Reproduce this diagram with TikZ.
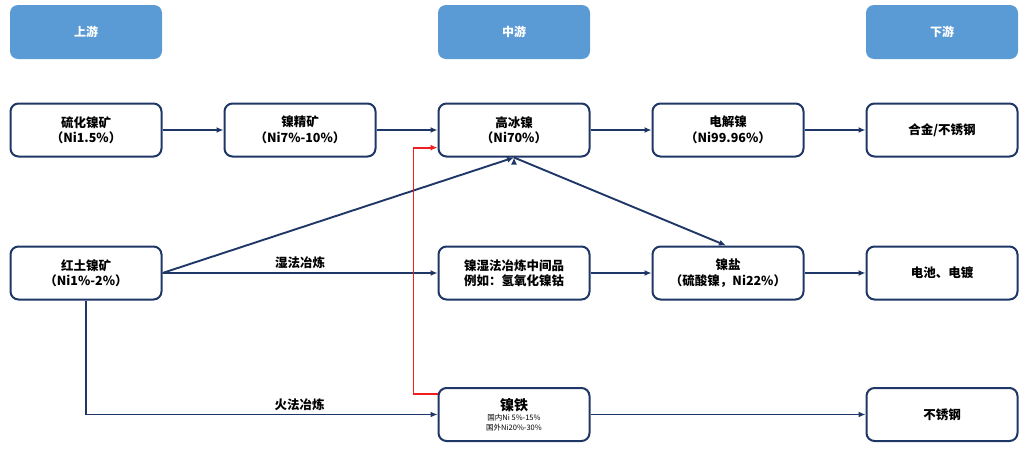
\documentclass[tikz,border=0pt]{standalone}
\usepackage{fontspec}
\setmainfont{Noto Sans CJK SC}
\usetikzlibrary{positioning,arrows.meta}
\definecolor{navy}{HTML}{1F3766}
\definecolor{headblue}{HTML}{5B9BD5}
\definecolor{redline}{HTML}{F01E1E}
\begin{document}
\begin{tikzpicture}
		[x=1pt,y=-1pt,
		block/.style ={rectangle, draw=navy, line width=2pt, fill=white, minimum width=151pt, minimum height=53pt, align=center, rounded corners=8pt, font=\fontsize{12.5}{15.5}\selectfont\bfseries, inner sep=0pt},
		head/.style ={rectangle, fill=headblue, minimum width=152pt, minimum height=54pt, rounded corners=8pt, text=white, font=\fontsize{12}{15}\selectfont\bfseries},
		line/.style ={draw=navy, line width=1.9pt, -{Latex[length=7pt,width=6pt]}},
		lab/.style ={font=\fontsize{12.5}{15}\selectfont\bfseries, inner sep=3pt}]
		\useasboundingbox (0,0) rectangle (1024,448);

		% header
		\node[head] (up) at (86,32) {上游};
		\node[head] (mid) at (514,32) {中游};
		\node[head] (down) at (942,32) {下游};

		% row 1
		\node[block] (lhk) at (86,130) {硫化镍矿\\（Ni1.5\%）};
		\node[block] (njk) at (300,130) {镍精矿\\（Ni7\%-10\%）};
		\node[block] (gbn) at (514,130) {高冰镍\\（Ni70\%）};
		\node[block] (djn) at (728,130) {电解镍\\（Ni99.96\%）};
		\node[block] (hj) at (942,130) {合金/不锈钢};

		% row 2
		\node[block] (htk) at (86,273) {红土镍矿\\（Ni1\%-2\%）};
		\node[block] (sfz) at (514,273) {镍湿法冶炼中间品\\例如：氢氧化镍钴};
		\node[block] (ny) at (728,273) {镍盐\\（硫酸镍，Ni22\%）};
		\node[block] (dc) at (942,273) {电池、电镀};

		% row 3
		\node[block] (nt) at (514,414.5) {{\fontsize{14}{16}\selectfont 镍铁}\\[-5pt]
			{\fontsize{7.5}{10}\selectfont\mdseries 国内Ni 5\%-15\%}\\[-6pt]
			{\fontsize{7.5}{10}\selectfont\mdseries 国外Ni20\%-30\%}};
		\node[block] (bxg) at (942,414.5) {不锈钢};

		\path[line]
		(lhk) edge (njk)
		(njk) edge (gbn)
		(gbn) edge (djn)
		(djn) edge (hj)
		(htk.east) edge (gbn.south)
		(gbn.south) edge ([xshift=-2pt]ny.north)
		(htk) edge node[lab, above, pos=0.5] {湿法冶炼} (sfz)
		(sfz) edge (ny)
		(ny) edge (dc)
		(nt) edge (bxg);

		\draw[line] (htk.south) |- node[lab, above, pos=0.804] {火法冶炼} (nt.west);

		\draw[line, draw=redline, -{Latex[length=7pt,width=6pt]}]
		(nt.165) -- ++(-24,0) |- (gbn.193);

	\end{tikzpicture}
\end{document}
